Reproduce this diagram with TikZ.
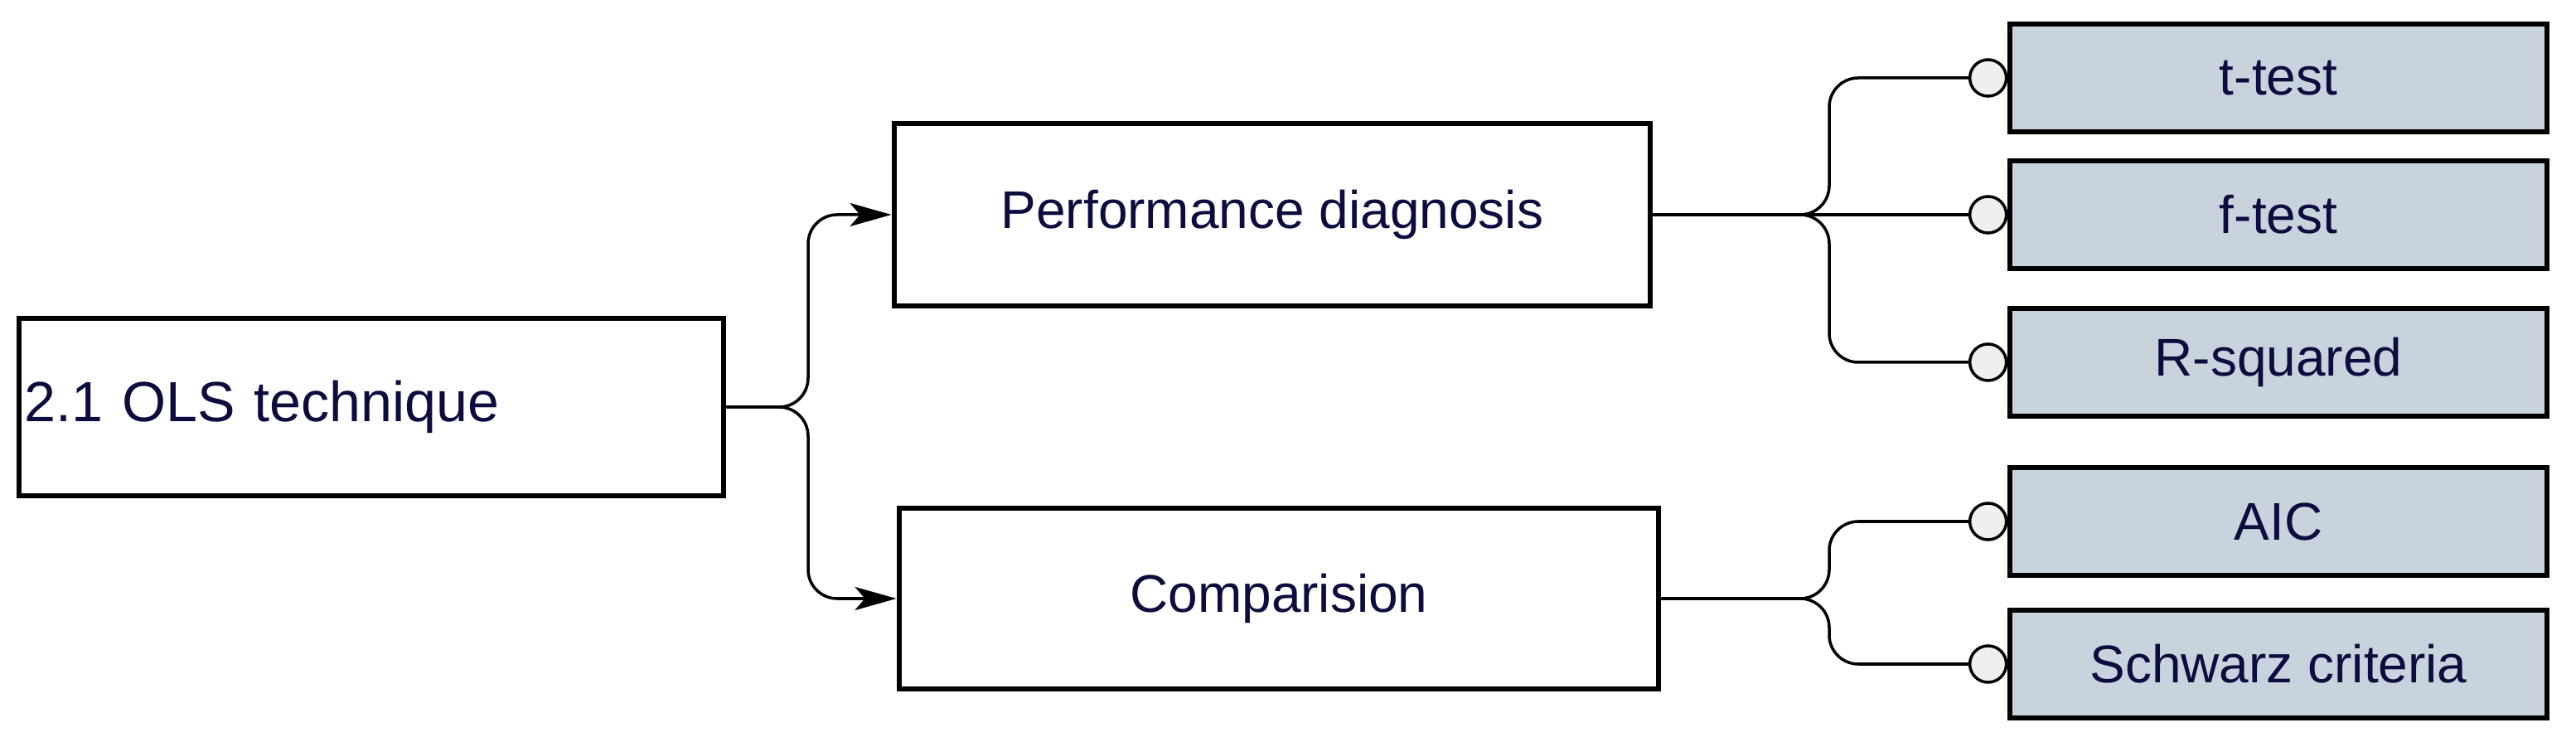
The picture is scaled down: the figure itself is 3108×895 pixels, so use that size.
\documentclass[tikz,border=0pt]{standalone}
\usepackage{fontspec}
\setmainfont{Liberation Sans}
\usetikzlibrary{arrows.meta}
\definecolor{txt}{RGB}{12,12,62}
\definecolor{leaf}{RGB}{201,211,221}
\definecolor{dot}{RGB}{238,240,238}
\begin{document}
\begin{tikzpicture}[x=0.01cm,y=-0.01cm,
  box/.style={draw=black, line width=1.8pt, text=txt, font=\fontsize{18.2}{22}\selectfont, inner sep=0pt},
  leafbox/.style={box, fill=leaf, minimum width=6.48cm, minimum height=1.3cm},
  dotc/.style={circle, draw=black, line width=1pt, fill=dot, minimum size=0.44cm, inner sep=0pt},
  conn/.style={draw=black, line width=1pt, rounded corners=0.35cm},
  arr/.style={-{Stealth[length=0.5cm,width=0.28cm,inset=0.12cm]}}]
\useasboundingbox (0,0) rectangle (3108,895);
\fill[white] (0,0) rectangle (3108,895);
% main boxes
\node[box, font=\fontsize{19.4}{23}\selectfont, minimum width=8.5cm, minimum height=2.14cm, text width=8.36cm, align=left, inner xsep=0.07cm] (root) at (448,491) {2.1 OLS technique};
\node[box, minimum width=9.12cm, minimum height=2.2cm] (perf) at (1535,259) {Performance diagnosis};
\node[box, minimum width=9.16cm, minimum height=2.18cm] (comp) at (1543,722) {Comparision};
% leaves
\node[leafbox] (t) at (2749,94) {t-test};
\node[leafbox] (f) at (2749,259) {f-test};
\node[leafbox] (r) at (2749,437) {R-squared};
\node[leafbox] (a) at (2749,629) {AIC};
\node[leafbox] (s) at (2749,801) {Schwarz criteria};
% circles
\node[dotc] (ct) at ([xshift=-0.23cm]t.west) {};
\node[dotc] (cf) at ([xshift=-0.23cm]f.west) {};
\node[dotc] (cr) at ([xshift=-0.23cm]r.west) {};
\node[dotc] (ca) at ([xshift=-0.23cm]a.west) {};
\node[dotc] (cs) at ([xshift=-0.23cm]s.west) {};
% junctions
\coordinate (jr) at (975,491);
\coordinate (jp) at (2207,259);
\coordinate (jc) at (2207,722);
% connectors
\draw[conn, arr] (root.east) -- (jr) |- (perf.west);
\draw[conn, arr] (root.east) -- (jr) |- (comp.west);
\draw[conn] (perf.east) -- (jp) |- (ct.west);
\draw[conn] (perf.east) -- (cf.west);
\draw[conn] (perf.east) -- (jp) |- (cr.west);
\draw[conn] (comp.east) -- (jc) |- (ca.west);
\draw[conn] (comp.east) -- (jc) |- (cs.west);
\end{tikzpicture}
\end{document}
